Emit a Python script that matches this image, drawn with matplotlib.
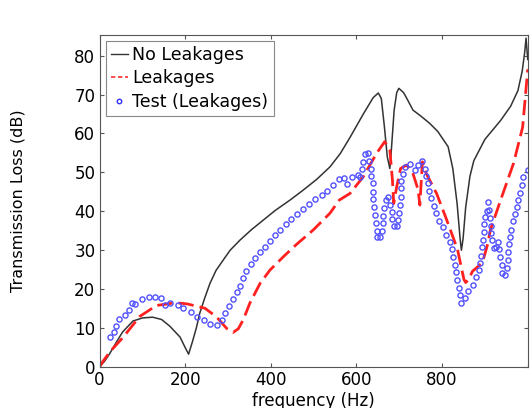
import numpy as np
import matplotlib.pyplot as plt
from matplotlib.lines import Line2D

# No Leakages (model)
f_model = [0, 12, 23, 40, 54, 78, 100, 124, 145, 164, 188, 200, 208, 217, 226, 234, 245,
           258, 272, 289, 305, 328, 355, 382, 410, 445, 475, 507, 538, 562, 585, 616, 639,
           651, 658, 665, 672, 678, 681, 688, 694, 699, 710, 720, 732, 750, 771, 790, 814,
           825, 835, 842, 845, 849, 855, 865, 874, 900, 937, 960, 977, 987, 993, 996, 1000]
tl_model = [0, 1.5, 3.3, 6.5, 9, 11.8, 12.6, 12.8, 12.2, 10.5, 7.7, 5, 3.3, 6.5, 10, 13.8, 17.5,
            21.5, 24.8, 27.5, 30, 32.6, 35.3, 37.7, 40.2, 42.9, 45.4, 48.2, 51.4, 54.8, 59, 65, 69.2,
            70.4, 69, 62, 54, 51, 55, 66, 70.5, 71.6, 70.5, 68.5, 66, 64.5, 62.6, 60.5, 56.6,
            51, 42, 33, 30, 33, 41, 49, 53, 58.5, 63.4, 67, 71, 76, 81, 84.5, 79]

# Leakages (model)
f_leak = [0, 7, 25, 54, 94, 133, 170, 188, 205, 246, 273, 297, 312, 324, 336, 351, 375, 398,
          429, 460, 499, 538, 560, 585, 616, 647, 666, 678, 684, 687, 694, 703, 717, 732, 744,
          748, 754, 763, 787, 808, 836, 845, 851, 855, 862, 871, 894, 905, 913, 937, 967, 988,
          1000]
tl_leak = [0, 1.3, 4, 7.5, 13, 15.8, 16.4, 16.4, 16.2, 15.1, 12.9, 9.9, 8.9, 9.8, 12.2, 16.4,
           21.5, 24.9, 28.3, 31.5, 35.2, 39.5, 42.9, 44.6, 48.9, 54.9, 57.9, 55.7, 48, 42, 46.3,
           51, 51.9, 49.7, 45.5, 41.6, 52.7, 49.7, 44.6, 38.6, 30.2, 25.5, 22.5, 21.7, 22.5,
           24.6, 26.8, 31, 35.3, 43, 52.4, 61.6, 76.5]

# Test (Leakages)
f_test = [25, 34, 39, 45, 59, 70, 76, 84, 99, 116, 130, 143, 152, 164, 183, 196, 214, 227,
          243, 258, 275, 285, 293, 303, 312, 320, 328, 334, 342, 353, 363, 375, 386, 398,
          410, 421, 435, 448, 462, 476, 490, 504, 519, 532, 546, 560, 571, 578, 589, 603,
          608, 612, 616, 620, 627, 630, 633, 635, 638, 639, 639, 641, 643, 645, 647, 649,
          656, 659, 661, 662, 665, 669, 674, 678, 682, 684, 687, 694, 697, 699, 701, 703,
          704, 705, 708, 713, 725, 736, 744, 754, 760, 763, 767, 770, 775, 780, 785, 793,
          802, 810, 818, 822, 826, 829, 832, 835, 839, 841, 845, 853, 861, 871, 878, 886,
          888, 890, 893, 896, 898, 898, 900, 904, 906, 909, 912, 914, 915, 917, 920, 927,
          931, 933, 936, 939, 941, 947, 951, 953, 955, 957, 958, 962, 966, 970, 974, 978,
          982, 986, 990, 1000]
tl_test = [7.6, 8.9, 10.6, 12.3, 13.3, 14.7, 16.4, 16.3, 17.4, 18.1, 18.1, 17.6, 15.9, 16.4,
           16.0, 15.1, 14.1, 12.9, 12.1, 11.0, 10.7, 12.2, 13.9, 15.7, 17.5, 19.2, 20.9, 22.8,
           24.7, 26.4, 27.9, 29.5, 30.9, 32.4, 33.8, 35.2, 36.7, 38.0, 39.2, 40.5, 41.8, 43.1,
           44.2, 45.3, 46.7, 48.2, 48.5, 47.0, 48.7, 49.3, 48.7, 50.8, 52.7, 54.7, 55.0, 53.0,
           51.0, 49.0, 47.2, 45.0, 43.1, 41.2, 39.0, 37.1, 35.0, 33.5, 33.5, 34.9, 36.9, 38.9,
           40.9, 42.9, 43.7, 41.6, 39.9, 37.9, 36.2, 36.2, 37.7, 39.6, 41.6, 43.7, 45.9, 47.8,
           49.7, 51.4, 52.1, 50.6, 52.0, 53.0, 51.0, 49.0, 47.2, 45.3, 43.3, 41.4, 39.5, 37.6,
           36.0, 33.9, 32.1, 30.2, 28.3, 26.3, 24.4, 22.3, 20.4, 18.4, 16.5, 17.8, 19.5, 21.0,
           23.2, 24.9, 26.6, 28.6, 30.8, 32.7, 34.7, 36.8, 38.5, 40.2, 42.3, 40.4, 38.3, 36.3,
           34.4, 32.6, 30.5, 30.9, 32.0, 30.2, 28.3, 26.2, 24.2, 23.6, 25.5, 27.6, 29.6, 31.5,
           33.4, 35.3, 37.4, 39.3, 41.1, 43.0, 44.8, 46.8, 48.8, 50.6]

x_ticks = [0, 200, 400, 600, 800, 1000]
x_ticklabels = ["0", "200", "400", "600", "800", ""]

fig = plt.figure(figsize=(5.31, 4.08), dpi=100)
ax = fig.add_axes([0.1874, 0.1005, 0.8065, 0.8137])

ax.plot(f_model, tl_model, color="#333333", lw=1.1)
ax.plot(f_leak, tl_leak, color="#ff2020", lw=2, dashes=(5.5, 2.2))
ax.plot(f_test, tl_test, ls="none", marker="o", ms=3.7, mfc="none", mec="#5050ff",
        mew=1.0)

ax.set_xlim(0, 1000)
ax.set_ylim(0, 85.3)
ax.set_xticks(x_ticks)
ax.set_xticklabels(x_ticklabels)
ax.set_yticks(range(0, 90, 10))
ax.tick_params(direction="in", length=3, top=True, right=True, labelsize=12,
               color="#555555", pad=3)
for s in ax.spines.values():
    s.set_color("#555555")
    s.set_linewidth(0.8)

ax.set_xlabel("frequency (Hz)", fontsize=12, labelpad=2)
ax.set_ylabel("Transmission Loss (dB)", fontsize=11.5, labelpad=35)

handles = [
    Line2D([], [], color="#333333", lw=1.0),
    Line2D([], [], color="#ff3030", lw=1.2, dashes=(2.6, 1.6)),
    Line2D([], [], ls="none", marker="o", ms=3.2, mfc="none", mec="#3030ff", mew=1.0),
]
labels = ["No Leakages", "Leakages", "Test (Leakages)"]
leg = ax.legend(handles, labels, loc="upper left", fontsize=12.5, handlelength=1.0,
                handletextpad=0.25, borderpad=0.3, labelspacing=0.3, borderaxespad=0.35,
                fancybox=False, framealpha=1, edgecolor="#888888", numpoints=1)
leg.get_frame().set_linewidth(0.8)

fig.savefig("out.png", dpi=100)
